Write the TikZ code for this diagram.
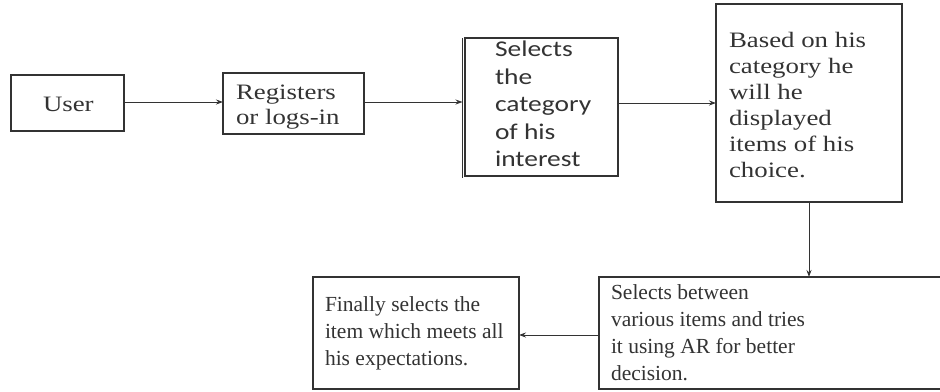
\documentclass[tikz,border=0pt]{standalone}
\usepackage{fontspec}
\setmainfont{Liberation Serif}
\newfontfamily\wideserif[FakeStretch=1.22]{Liberation Serif}
\newfontfamily\widesans[FakeStretch=1.22]{Carlito}
\usetikzlibrary{arrows.meta}
\definecolor{ink}{HTML}{333333}
\tikzset{
  box/.style={draw=ink, line width=1.1pt, rectangle, inner sep=0pt, outer sep=0pt},
  txt/.style={anchor=north west, inner sep=0pt, outer sep=0pt, align=left, text=ink},
  topserif/.style={font=\wideserif\fontsize{22}{25}\selectfont},
  topsans/.style={font=\widesans\fontsize{22.5}{27.5}\selectfont},
  botserif/.style={font=\fontsize{21.5}{27}\selectfont},
  conn/.style={draw=ink, line width=0.9pt, -{Stealth[length=7pt,width=5pt]}}
}
\begin{document}
\begin{tikzpicture}[x=1pt,y=-1pt]
\useasboundingbox (0,0) rectangle (940,391);
% boxes
\node[box, minimum width=113pt, minimum height=56pt] (user) at (67.5,103) {};
\node[box, minimum width=141pt, minimum height=61pt] (reg) at (293.5,103.5) {};
\node[box, minimum width=153pt, minimum height=138pt] (sel) at (541.5,107) {};
\node[box, minimum width=186pt, minimum height=198pt] (based) at (809,103) {};
\node[box, minimum width=350pt, minimum height=112pt] (betw) at (774,333) {};
\node[box, minimum width=206pt, minimum height=112pt] (fin) at (416,333) {};
\draw[ink, line width=1.1pt] ([xshift=-2.5pt]sel.north west) -- ([xshift=-2.5pt,yshift=-1.5pt]sel.south west);
% texts
\node[txt, topserif] (tuser) at (43,97) {User};
\node[txt, topserif] (treg) at (236,85) {Registers\\or logs-in};
\node[txt, topsans] (tsel) at (495,41) {Selects\\the\\category\\of his\\interest};
\node[txt, topserif, font=\wideserif\fontsize{22}{26}\selectfont] (tbased) at (729,32) {Based on his\\category he\\will he\\displayed\\items of his\\choice.};
\node[txt, botserif] (tbetw) at (611,285) {Selects between\\various items and tries\\it using AR for better\\decision.};
\node[txt, botserif] (tfin) at (325,297) {Finally selects the\\item which meets all\\his expectations.};
% connectors
\draw[conn] (user.east |- 0,102) -- (reg.west |- 0,102);
\draw[conn] (reg.east |- 0,102) -- ([xshift=-2.5pt]sel.west |- 0,102);
\draw[conn] (sel.east |- 0,103) -- (based.west |- 0,103);
\draw[conn] (based.south) -- (based.south |- betw.north);
\draw[conn] (betw.west |- 0,335) -- (fin.east |- 0,335);
\end{tikzpicture}
\end{document}
